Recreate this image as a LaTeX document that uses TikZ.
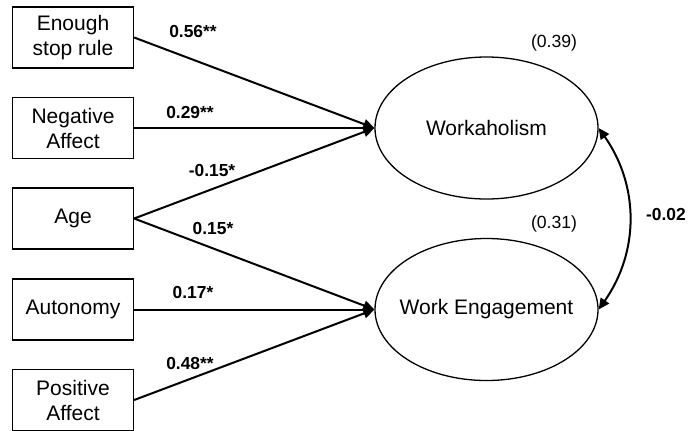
\documentclass[tikz,border=0pt]{standalone}
\usepackage{fontspec}
\setmainfont{Liberation Sans}
\usetikzlibrary{arrows.meta, shapes.geometric}

\begin{document}
\begin{tikzpicture}[
    x=0.5pt, y=-0.5pt,
    >={Triangle[length=5.5pt, width=5pt]},
    obs/.style={draw, line width=0.65pt, align=center, minimum width=60.5pt, minimum height=30.5pt, inner sep=0pt, font=\fontsize{10.5pt}{12.5pt}\selectfont},
    latent/.style={draw, ellipse, line width=0.65pt, minimum width=111.5pt, minimum height=71pt, inner xsep=-6pt, inner ysep=0pt, font=\fontsize{10.5pt}{12.5pt}\selectfont},
    coef/.style={font=\fontsize{8.7pt}{10pt}\selectfont\bfseries, inner sep=1pt},
    rsq/.style={font=\fontsize{8.8pt}{10pt}\selectfont, inner sep=1pt},
    reg/.style={->, line width=1pt},
    corr/.style={<->, line width=1pt},
]
\useasboundingbox (0,0) rectangle (688,430);

% ─── Predictors ───
\node[obs] at (73, 37.5)  (stop)  {Enough\\stop rule};
\node[obs] at (73, 128)   (neg)   {Negative\\Affect};
\node[obs] at (73, 218.5) (age)   {Age};
\node[obs] at (73, 309.5) (auto)  {Autonomy};
\node[obs] at (73, 400)   (pos)   {Positive\\Affect};

% ─── Outcomes ───
\node[latent] at (486.5, 128)   (work) {Workaholism};
\node[latent] at (486.5, 309.5) (eng)  {Work Engagement};

\node[rsq] at (554, 43)  (r2work) {(0.39)};
\node[rsq] at (554, 224) (r2eng)  {(0.31)};

% ─── Paths ───
\draw[reg] (stop.east) -- (work.west);
\draw[reg] (neg.east)  -- (work.west);
\draw[reg] (age.east)  -- (work.west);
\draw[reg] (age.east)  -- (eng.west);
\draw[reg] (auto.east) -- (eng.west);
\draw[reg] (pos.east)  -- (eng.west);

\node[coef] at (193, 32)  (b1) {0.56**};
\node[coef] at (190, 113) (b2) {0.29**};
\node[coef] at (212, 170) (b3) {-0.15*};
\node[coef] at (213, 228) (b4) {0.15*};
\node[coef] at (193, 292) (b5) {0.17*};
\node[coef] at (190, 363) (b6) {0.48**};

% ─── Covariance ───
\draw[corr] (work.east) to[bend left=35] (eng.east);
\node[coef] at (666, 214) (cov) {-0.02};

\end{tikzpicture}
\end{document}
